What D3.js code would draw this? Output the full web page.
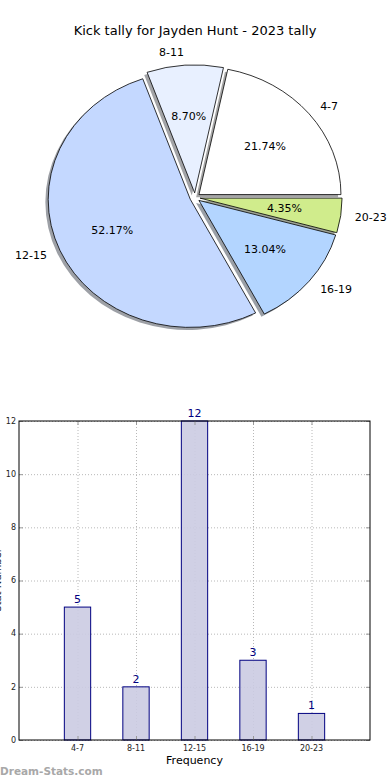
<!DOCTYPE html>
<html>
<head>
<meta charset="utf-8">
<script src="https://cdn.jsdelivr.net/npm/d3@7"></script>
<style>
  body { margin: 0; background: #fff; }
  text { font-family: "DejaVu Sans", sans-serif; }
</style>
</head>
<body>
<div id="chart"></div>
<script>
// chart data
const categories = ['4-7', '8-11', '12-15', '16-19', '20-23'];
const counts = [5, 2, 12, 3, 1];
const pieColors = ['#ffffff', '#e8f0ff', '#c4d8ff', '#b3d5ff', '#d0ec8c'];
const yTicks = [0, 2, 4, 6, 8, 10, 12];

const width = 390, height = 780;

const svg = d3.select('#chart')
  .append('svg')
    .attr('width', width)
    .attr('height', height);

svg.append('text')
  .attr('x', 195).attr('y', 35)
  .attr('text-anchor', 'middle')
  .attr('font-size', 13)
  .text('Kick tally for Jayden Hunt - 2023 tally');

// ---- pie (matplotlib style: starts east, counterclockwise, slightly exploded, shadow)
const cx = 195, cy = 197.5, rx = 142, ry = 128;
const explode = 0.036;
const total = d3.sum(counts);

const pie = d3.pie().sort(null)
  .startAngle(Math.PI / 2)
  .endAngle(Math.PI / 2 - 2 * Math.PI);
const arcs = pie(counts);
const unitArc = d3.arc().innerRadius(0).outerRadius(1);

function dir(a) { return [Math.sin(a), -Math.cos(a)]; }
function mid(d) { return (d.startAngle + d.endAngle) / 2; }

const pieG = svg.append('g');

// shadows under all wedges
arcs.forEach((d, i) => {
  const [dx, dy] = dir(mid(d));
  const c = d3.rgb(pieColors[i]);
  pieG.append('path')
    .attr('transform', 'translate(' + (cx + explode * rx * dx - 0.02 * rx) + ',' + (cy + explode * ry * dy + 0.02 * ry) + ') scale(' + rx + ',' + ry + ')')
    .attr('d', unitArc(d))
    .attr('fill', d3.rgb(c.r * 0.3, c.g * 0.3, c.b * 0.3))
    .attr('fill-opacity', 0.5);
});

arcs.forEach((d, i) => {
  const [dx, dy] = dir(mid(d));
  const ox = cx + explode * rx * dx, oy = cy + explode * ry * dy;
  pieG.append('path')
    .attr('transform', 'translate(' + ox + ',' + oy + ') scale(' + rx + ',' + ry + ')')
    .attr('d', unitArc(d))
    .attr('fill', pieColors[i])
    .attr('stroke', '#000')
    .attr('stroke-width', 0.8)
    .attr('vector-effect', 'non-scaling-stroke');

  pieG.append('text')
    .attr('x', ox + 1.1 * rx * dx)
    .attr('y', oy + 1.1 * ry * dy)
    .attr('dy', '0.35em')
    .attr('text-anchor', dx >= 0 ? 'start' : 'end')
    .attr('font-size', 11)
    .text(categories[i]);

  pieG.append('text')
    .attr('x', ox + 0.6 * rx * dx)
    .attr('y', oy + 0.6 * ry * dy)
    .attr('dy', '0.35em')
    .attr('text-anchor', 'middle')
    .attr('font-size', 11)
    .text((counts[i] / total * 100).toFixed(2) + '%');
});

// ---- bar chart
const plot = { left: 19, right: 370, top: 421, bottom: 740 };

const x = d3.scaleLinear().domain([-1, 5]).range([plot.left, plot.right]);
const y = d3.scaleLinear().domain([0, 12]).range([plot.bottom, plot.top]);
const barW = x(0.45) - x(0);

const grid = svg.append('g')
  .attr('stroke', '#b8b8b8')
  .attr('stroke-dasharray', '1,2');

grid.selectAll('line.h')
  .data(yTicks)
  .enter()
  .append('line')
    .attr('x1', plot.left).attr('x2', plot.right)
    .attr('y1', d => y(d) + 0.5).attr('y2', d => y(d) + 0.5);

grid.selectAll('line.v')
  .data(categories)
  .enter()
  .append('line')
    .attr('x1', (d, i) => x(i) + 0.5).attr('x2', (d, i) => x(i) + 0.5)
    .attr('y1', plot.top).attr('y2', plot.bottom);

svg.selectAll('rect.bar')
  .data(counts)
  .enter()
  .append('rect')
    .attr('class', 'bar')
    .attr('x', (d, i) => x(i) - barW / 2)
    .attr('y', d => y(d))
    .attr('width', barW)
    .attr('height', d => y(0) - y(d))
    .attr('fill', '#cbcbe2')
    .attr('fill-opacity', 0.9)
    .attr('stroke', '#000080')
    .attr('stroke-width', 1);

svg.selectAll('text.val')
  .data(counts)
  .enter()
  .append('text')
    .attr('class', 'val')
    .attr('x', (d, i) => x(i))
    .attr('y', d => y(d) - 4)
    .attr('text-anchor', 'middle')
    .attr('font-size', 11)
    .attr('fill', '#000080')
    .text(d => d);

// inward gray tick marks on all sides
const ticks = svg.append('g').attr('stroke', '#999').attr('stroke-width', 1);
yTicks.forEach(t => {
  ticks.append('line').attr('x1', plot.left).attr('x2', plot.left + 4).attr('y1', y(t) + 0.5).attr('y2', y(t) + 0.5);
  ticks.append('line').attr('x1', plot.right - 4).attr('x2', plot.right).attr('y1', y(t) + 0.5).attr('y2', y(t) + 0.5);
});
categories.forEach((c, i) => {
  ticks.append('line').attr('x1', x(i) + 0.5).attr('x2', x(i) + 0.5).attr('y1', plot.top).attr('y2', plot.top + 4);
  ticks.append('line').attr('x1', x(i) + 0.5).attr('x2', x(i) + 0.5).attr('y1', plot.bottom - 4).attr('y2', plot.bottom);
});

svg.append('rect')
  .attr('x', plot.left).attr('y', plot.top)
  .attr('width', plot.right - plot.left)
  .attr('height', plot.bottom - plot.top)
  .attr('fill', 'none')
  .attr('stroke', '#000')
  .attr('stroke-width', 1);

svg.selectAll('text.ytick')
  .data(yTicks)
  .enter()
  .append('text')
    .attr('class', 'ytick')
    .attr('x', plot.left - 3)
    .attr('y', d => y(d))
    .attr('dy', '0.35em')
    .attr('text-anchor', 'end')
    .attr('font-size', 8)
    .attr('fill', '#222')
    .text(d => d);

svg.selectAll('text.xtick')
  .data(categories)
  .enter()
  .append('text')
    .attr('class', 'xtick')
    .attr('x', (d, i) => x(i))
    .attr('y', plot.bottom + 11)
    .attr('text-anchor', 'middle')
    .attr('font-size', 8)
    .attr('fill', '#222')
    .text(d => d);

svg.append('text')
  .attr('x', x(2)).attr('y', 764)
  .attr('text-anchor', 'middle')
  .attr('font-size', 11)
  .text('Frequency');

// y label sits half off the left edge, as in the reference
svg.append('text')
  .attr('transform', 'translate(1,580) rotate(-90)')
  .attr('text-anchor', 'middle')
  .attr('font-size', 10)
  .attr('fill', '#222')
  .text('Stat Number');

svg.append('text')
  .attr('x', 0).attr('y', 775)
  .attr('font-size', 10.5)
  .attr('font-weight', 'bold')
  .attr('fill', '#a8a8a8')
  .text('Dream-Stats.com');
</script>
</body>
</html>
